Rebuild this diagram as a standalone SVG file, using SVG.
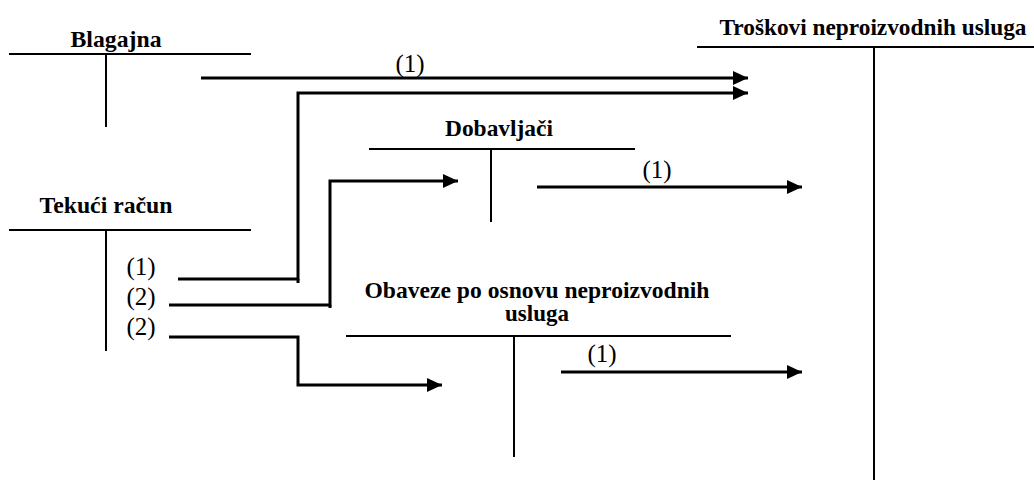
<svg xmlns="http://www.w3.org/2000/svg" width="1034" height="480" viewBox="0 0 1034 480">
<style>
.t{font-family:'Liberation Serif','DejaVu Serif',serif;font-weight:bold;font-size:23px;fill:#000;text-anchor:middle}
.l{font-family:'Liberation Serif','DejaVu Serif',serif;font-size:25px;fill:#000;text-anchor:middle}
.acc{stroke:#000;stroke-width:2;fill:none}
.con{stroke:#000;stroke-width:3;fill:none}
</style>
<defs>
<marker id="ah" markerUnits="userSpaceOnUse" markerWidth="16" markerHeight="15" refX="15" refY="7" orient="auto">
<path d="M0,0 L15,7 L0,14 z" fill="#000"/>
</marker>
</defs>
<rect width="1034" height="480" fill="#fff"/>
<g id="blagajna">
<text class="t" x="116" y="47" textLength="91" lengthAdjust="spacingAndGlyphs">Blagajna</text>
<line class="acc" x1="9" y1="54" x2="251" y2="54"/>
<line class="acc" x1="106" y1="54" x2="106" y2="127"/>
</g>
<g id="tekuci-racun">
<text class="t" x="106" y="213" textLength="133" lengthAdjust="spacingAndGlyphs">Tekući račun</text>
<line class="acc" x1="9" y1="230" x2="251" y2="230"/>
<line class="acc" x1="106" y1="230" x2="106" y2="351"/>
<text class="l" x="141" y="275">(1)</text>
<text class="l" x="141" y="305">(2)</text>
<text class="l" x="141" y="335">(2)</text>
</g>
<g id="dobavljaci">
<text class="t" x="499" y="136" textLength="108" lengthAdjust="spacingAndGlyphs">Dobavljači</text>
<line class="acc" x1="369" y1="149" x2="635" y2="149"/>
<line class="acc" x1="491" y1="149" x2="491" y2="222"/>
</g>
<g id="obaveze">
<text class="t" x="537" y="298" textLength="345" lengthAdjust="spacingAndGlyphs">Obaveze po osnovu neproizvodnih</text>
<text class="t" x="537" y="321">usluga</text>
<line class="acc" x1="346" y1="336" x2="731" y2="336"/>
<line class="acc" x1="514" y1="336" x2="514" y2="457"/>
</g>
<g id="troskovi">
<text class="t" x="873" y="35" textLength="307" lengthAdjust="spacingAndGlyphs">Troškovi neproizvodnih usluga</text>
<line class="acc" x1="697" y1="47" x2="1034" y2="47"/>
<line class="acc" x1="874" y1="47" x2="874" y2="480"/>
</g>
<g id="connectors">
<path class="con" d="M201,78 H748" marker-end="url(#ah)"/>
<text class="l" x="410" y="72">(1)</text>
<path class="con" d="M178,279 H298 V93 H748" marker-end="url(#ah)"/>
<line class="con" x1="298" y1="279" x2="298" y2="283"/>
<path class="con" d="M169,305 H330 V181 H458" marker-end="url(#ah)"/>
<line class="con" x1="330" y1="305" x2="330" y2="308"/>
<path class="con" d="M169,337 H298 V385 H442" marker-end="url(#ah)"/>
<path class="con" d="M537,187 H802" marker-end="url(#ah)"/>
<text class="l" x="657" y="178">(1)</text>
<path class="con" d="M561,372 H802" marker-end="url(#ah)"/>
<text class="l" x="602" y="362">(1)</text>
</g>
</svg>
